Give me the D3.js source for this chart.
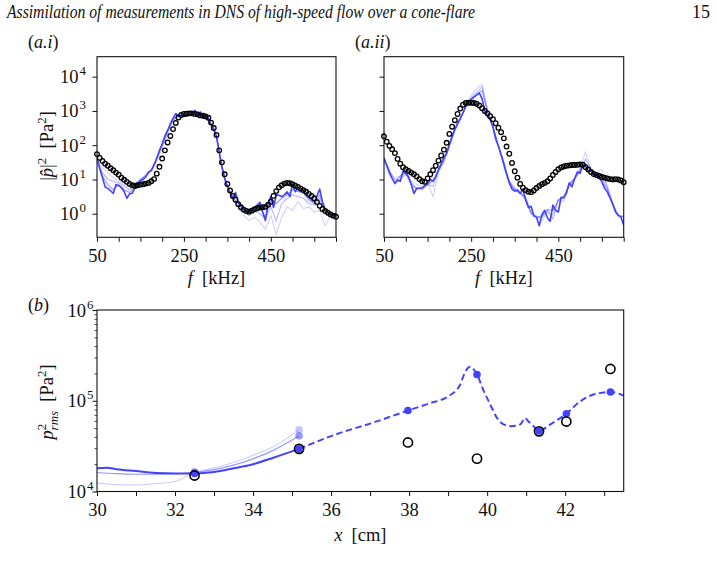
<!DOCTYPE html>
<html><head><meta charset="utf-8">
<script src="https://cdn.jsdelivr.net/npm/d3@7"></script>
<style>
body{margin:0;background:#fff}
svg{display:block}
text{font-family:"Liberation Serif","DejaVu Serif",serif;fill:#111}
</style>
</head><body>
<svg id="c" width="717" height="573"></svg>
<script>
// ---------------- DATA ----------------
// frequency bins [kHz]
const freqFine = d3.range(50, 600.01, 6.25);   // 89 bins
const freqCoarse = d3.range(50, 600.01, 12.5); // 45 bins
const freqTicks = [50,100,150,200,250,300,350,400,450,500,550,600];
const freqTickLabels = [50,250,450];
const specYTicksExp = [0,1,2,3,4];

// (a.i) measured spectrum, log10(|p|^2)
const ai_measured = [1.74,1.63,1.54,1.46,1.40,1.33,1.27,1.20,1.14,1.05,0.99,0.93,0.87,0.83,0.81,0.83,0.85,0.86,0.88,0.90,
 0.95,1.01,1.17,1.37,1.61,1.85,2.08,2.27,2.47,2.65,2.81,2.88,2.91,2.92,2.93,2.93,2.91,2.90,2.87,2.86,
 2.84,2.80,2.66,2.50,2.30,1.85,1.50,1.15,0.87,0.68,0.52,0.41,0.28,0.19,0.12,0.08,0.06,0.09,0.13,0.16,
 0.18,0.19,0.20,0.26,0.35,0.52,0.66,0.77,0.83,0.88,0.90,0.89,0.86,0.82,0.78,0.73,0.69,0.64,0.58,0.52,
 0.45,0.34,0.23,0.14,0.08,0.03,-0.02,-0.06,-0.09];
// (a.i) assimilated DNS, main run, log10
const ai_dns = [1.61,1.32,1.06,0.78,0.74,0.67,0.59,0.85,0.82,0.76,0.65,0.45,0.58,0.60,0.76,0.88,0.96,1.00,1.08,1.22,
 1.26,1.42,1.62,1.85,2.03,2.27,2.43,2.62,2.78,2.92,2.84,2.87,2.84,2.86,2.89,2.87,3.02,2.86,2.97,2.83,
 2.85,2.79,2.60,2.48,2.26,1.78,1.36,1.02,0.80,0.62,0.45,0.62,0.33,0.24,0.17,0.06,0.07,0.10,0.18,0.25,
 0.33,0.05,-0.20,0.30,0.50,0.18,0.55,0.54,0.50,0.55,0.64,0.50,0.86,0.64,0.74,0.70,0.68,0.55,0.47,0.40,
 0.35,0.52,0.72,0.35,0.14,0.06,-0.04,-0.02,0.00];
// (a.i) other runs (coarse bins), log10
const ai_run1 = [1.55,1.35,1.20,1.05,0.95,0.85,0.80,0.90,1.00,1.10,1.30,1.55,1.90,2.35,2.70,2.88,2.95,2.90,2.95,2.88,
 2.85,2.62,2.28,1.40,0.82,0.40,0.20,-0.05,-0.20,-0.10,-0.25,-0.45,-0.05,-0.60,-0.10,0.20,0.10,0.35,0.15,0.20,
 0.05,0.10,-0.35,-0.05,-0.10];
const ai_run2 = [1.58,1.20,1.00,0.95,0.90,0.80,0.70,0.85,1.00,1.15,1.28,1.60,2.00,2.40,2.75,2.85,2.88,2.92,2.98,2.90,
 2.84,2.60,2.25,1.35,0.78,0.50,0.25,0.05,-0.05,0.10,0.00,-0.15,0.20,-0.20,0.30,0.45,0.55,0.50,0.45,0.30,
 0.25,0.45,0.05,-0.05,0.00];
const ai_run3 = [1.60,1.10,0.85,0.70,0.85,0.70,0.62,0.78,0.98,1.10,1.27,1.62,2.02,2.42,2.77,2.86,2.86,2.90,2.99,2.95,
 2.85,2.60,2.26,1.36,0.80,0.48,0.30,0.12,0.05,0.15,0.20,-0.10,0.40,0.30,0.45,0.55,0.70,0.65,0.60,0.40,
 0.30,0.55,0.10,-0.05,0.00];

// (a.ii) measured spectrum, log10
const aii_measured = [2.26,2.10,1.98,1.88,1.77,1.60,1.46,1.36,1.30,1.25,1.20,1.15,1.09,1.01,0.95,0.93,1.03,1.15,1.27,1.40,
 1.55,1.70,1.87,2.07,2.33,2.54,2.73,2.91,3.07,3.18,3.23,3.24,3.24,3.23,3.21,3.16,3.08,3.00,2.93,2.85,
 2.76,2.64,2.51,2.38,2.20,1.96,1.75,1.48,1.24,1.05,0.87,0.76,0.69,0.64,0.63,0.68,0.75,0.81,0.86,0.90,
 0.95,1.03,1.13,1.22,1.30,1.35,1.38,1.40,1.41,1.42,1.42,1.43,1.44,1.43,1.36,1.29,1.22,1.16,1.13,1.10,
 1.07,1.05,1.03,1.01,1.00,1.01,1.00,0.97,0.92];
const aii_dns = [1.62,1.42,1.22,1.03,0.88,0.97,0.95,1.25,1.18,1.08,0.85,0.59,0.74,0.75,0.75,0.82,0.88,0.99,0.95,1.08,
 1.28,1.46,1.65,1.76,2.02,2.26,2.47,2.64,2.78,2.94,3.13,3.25,3.34,3.40,3.46,3.53,3.35,3.00,2.83,2.74,
 2.52,2.18,1.97,1.72,1.45,1.15,0.90,0.72,0.66,0.69,0.59,0.72,0.40,0.18,0.22,-0.06,-0.10,-0.35,-0.02,0.10,
 -0.12,-0.22,0.25,0.10,0.05,0.48,0.47,0.60,0.90,0.79,1.03,1.22,1.18,1.45,1.38,1.24,1.26,1.14,1.16,1.04,
 0.93,0.74,0.63,0.46,0.28,0.05,-0.04,-0.10,-0.33];
const aii_run1 = [1.55,1.15,1.05,1.10,1.20,0.95,0.85,0.80,0.90,0.50,1.20,1.50,1.95,2.40,2.75,3.15,3.45,3.65,3.78,3.05,
 2.55,1.95,1.35,0.95,0.75,0.65,0.45,0.00,-0.05,-0.20,0.05,-0.05,0.45,0.35,0.85,1.05,1.35,1.80,1.30,1.20,
 1.30,0.75,0.25,-0.10,-0.05];
const aii_run2 = [1.65,1.25,1.00,1.00,1.15,0.90,0.75,0.70,0.85,0.80,1.25,1.55,2.00,2.45,2.78,3.12,3.38,3.55,3.70,3.00,
 2.55,2.00,1.45,0.95,0.72,0.62,0.48,0.05,-0.10,-0.10,0.10,-0.15,0.40,0.45,0.80,1.00,1.30,1.60,1.30,1.15,
 1.15,0.80,0.30,-0.05,-0.10];
const aii_run3 = [1.62,1.15,0.92,1.10,1.20,0.85,0.72,0.75,0.85,0.95,1.27,1.58,2.02,2.45,2.75,3.12,3.32,3.48,3.60,2.95,
 2.55,1.98,1.50,0.92,0.68,0.60,0.42,0.00,-0.12,-0.05,0.12,0.10,0.38,0.50,0.88,1.02,1.25,1.45,1.25,1.15,
 1.00,0.70,0.25,-0.05,-0.08];

// (b) p_rms^2 [Pa^2] along x [cm]
const xSensors = [32.5, 35.18, 37.97, 39.74, 41.33, 42.03, 43.16];
const prmsMeasured = [1.50e4, 2.95e4, 3.47e4, 2.30e4, 4.60e4, 5.90e4, 2.24e5];
const prmsDnsAtSensors = [1.58e4, 2.95e4, 7.8e4, 1.95e5, 4.65e4, 7.2e4, 1.25e5];
const xMainSolid = [30.0, 30.25, 30.5, 31.0, 31.5, 32.0, 32.5, 33.0, 33.5, 34.0, 34.5, 35.18];
const prmsMainSolid = [1.80e4, 1.83e4, 1.76e4, 1.68e4, 1.60e4, 1.58e4, 1.58e4, 1.64e4, 1.80e4, 2.00e4, 2.34e4, 2.95e4];
const xMainDashed = [35.18, 36.23, 37.0, 37.97, 38.5, 39.0, 39.3, 39.44, 39.56, 39.74, 39.9, 40.08, 40.25, 40.42, 40.63, 40.85, 40.97, 41.06, 41.19, 41.33, 41.62, 42.03, 42.38, 42.72, 43.16, 43.5];
const prmsMainDashed = [2.95e4, 4.42e4, 5.6e4, 7.8e4, 9.3e4, 1.12e5, 1.48e5, 2.09e5, 2.37e5, 1.95e5, 1.32e5, 9.1e4, 6.5e4, 5.5e4, 5.25e4, 5.5e4, 6.45e4, 5.9e4, 5.25e4, 4.65e4, 5.5e4, 7.2e4, 9.8e4, 1.17e5, 1.25e5, 1.14e5];
const xRunB = [30.0, 30.5, 31.0, 31.5, 32.0, 32.5, 33.0, 33.5, 34.0, 34.5, 35.18];
const prmsRunLight = [1.24e4, 1.19e4, 1.18e4, 1.22e4, 1.29e4, 1.62e4, 1.82e4, 2.09e4, 2.51e4, 3.09e4, 4.79e4];
const prmsRunMid = [1.62e4, 1.57e4, 1.55e4, 1.55e4, 1.57e4, 1.62e4, 1.74e4, 1.95e4, 2.29e4, 2.82e4, 4.12e4];
const xRunDots = [32.5, 35.18];
const prmsRunLightDots = [1.66e4, 4.79e4];
const prmsRunMidDots = [1.62e4, 4.12e4];
const xTicksB = d3.range(30, 43.5, 1);
const xTickLabelsB = [30,32,34,36,38,40,42];

// ---------------- DRAW ----------------
const BLUE = "#4343ff";
const svg = d3.select("#c");
const FS = 18.5;

// header
svg.append("text").attr("x", 7).attr("y", 18).attr("font-size", 18).attr("font-style","italic")
  .attr("textLength", 468).attr("lengthAdjust","spacingAndGlyphs")
  .text("Assimilation of measurements in DNS of high-speed flow over a cone-flare");
svg.append("text").attr("x", 710).attr("y", 18).attr("font-size", 18).attr("text-anchor","end").text("15");

function panelLabel(x, y, inner){
  const t = svg.append("text").attr("x", x).attr("y", y).attr("font-size", 18);
  t.append("tspan").text("(");
  t.append("tspan").attr("font-style","italic").text(inner);
  t.append("tspan").text(")");
}
panelLabel(28, 48, "a.i");
panelLabel(355, 48, "a.ii");
panelLabel(28, 311, "b");

function drawSpectrum(left, top, W, H, measured, dns, runs, showY, clipId){
  const g = svg.append("g").attr("transform", `translate(${left},${top})`);
  const x = d3.scaleLinear().domain([50, 600]).range([0, W]);
  const y = d3.scaleLog().domain([Math.pow(10, -0.688), Math.pow(10, 4.583)]).range([H, 0]);
  g.append("clipPath").attr("id", clipId).append("rect").attr("width", W).attr("height", H);

  // x axis
  const ax = g.append("g").attr("transform", `translate(0,${H})`)
    .call(d3.axisBottom(x).tickValues(freqTicks).tickSize(4.5).tickPadding(5)
      .tickFormat(d => freqTickLabels.includes(d) ? String(d) : ""));
  ax.select(".domain").remove();
  ax.attr("font-family", null);
  ax.selectAll("text").attr("font-size", FS).attr("fill","#111").attr("dy","0.8em");
  ax.selectAll("line").attr("stroke","#111").attr("stroke-width",1);

  // y axis
  const ay = g.append("g")
    .call(d3.axisLeft(y).tickValues(specYTicksExp.map(e => Math.pow(10, e))).tickSize(4.5).tickFormat(""));
  ay.select(".domain").remove();
  ay.selectAll("line").attr("stroke","#111").attr("stroke-width",1);
  if (showY){
    specYTicksExp.forEach(e => {
      g.append("text").attr("x", -18.5).attr("y", y(Math.pow(10,e)) + 6.5)
        .attr("font-size", FS).attr("text-anchor","end").text("10");
      g.append("text").attr("x", -17.5).attr("y", y(Math.pow(10,e)) - 1.5)
        .attr("font-size", FS*0.7).text(String(e));
    });
  }

  const plot = g.append("g").attr("clip-path", `url(#${clipId})`);
  const lineC = d3.line().x((d,i) => x(freqCoarse[i])).y(d => y(Math.pow(10, d)));
  const lineF = d3.line().x((d,i) => x(freqFine[i])).y(d => y(Math.pow(10, d)));
  const runOp = [0.25, 0.4, 0.55];
  runs.forEach((r, k) => {
    plot.append("path").datum(r).attr("d", lineC).attr("fill","none")
      .attr("stroke", BLUE).attr("stroke-opacity", runOp[k]).attr("stroke-width", 1.1);
  });
  plot.append("path").datum(dns).attr("d", lineF).attr("fill","none")
    .attr("stroke", BLUE).attr("stroke-width", 1.6).attr("stroke-linejoin","round");

  g.append("g").selectAll("circle").data(measured).join("circle")
    .attr("cx", (d,i) => x(freqFine[i])).attr("cy", d => y(Math.pow(10, d)))
    .attr("r", 2.3).attr("fill","none").attr("stroke","#000").attr("stroke-width", 1.3);

  g.append("rect").attr("width", W).attr("height", H).attr("fill","none").attr("stroke","#111").attr("stroke-width",1.1);

  // x label
  const xl = g.append("text").attr("x", W/2).attr("y", H + 47).attr("font-size", FS).attr("text-anchor","middle");
  xl.append("tspan").attr("font-style","italic").text("f");
  xl.append("tspan").text("\u2002[kHz]");
  return {g, x, y};
}

drawSpectrum(97, 56.7, 239, 180.6, ai_measured, ai_dns, [ai_run1, ai_run2, ai_run3], true, "clipA1");
drawSpectrum(384, 56.7, 239.7, 180.6, aii_measured, aii_dns, [aii_run1, aii_run2, aii_run3], false, "clipA2");

// y label a
{
  const t = svg.append("text").attr("transform","translate(53,146) rotate(-90)")
    .attr("font-size", FS).attr("text-anchor","middle");
  t.append("tspan").text("|");
  t.append("tspan").attr("font-style","italic").text("p\u0302");
  t.append("tspan").text("|");
  t.append("tspan").attr("font-size", FS*0.7).attr("dy", -7.5).text("2");
  t.append("tspan").attr("dy", 7.5).text("\u2002[Pa");
  t.append("tspan").attr("font-size", FS*0.7).attr("dy", -7.5).text("2");
  t.append("tspan").attr("dy", 7.5).text("]");
}

// ---------- panel b ----------
{
  const left = 97, top = 310, W = 526.7, H = 181.5;
  const g = svg.append("g").attr("transform", `translate(${left},${top})`);
  const x = d3.scaleLinear().domain([30, 43.5]).range([0, W]);
  const y = d3.scaleLog().domain([1e4, 1e6]).range([H, 0]);
  g.append("clipPath").attr("id","clipB").append("rect").attr("width", W).attr("height", H);

  const ax = g.append("g").attr("transform", `translate(0,${H})`)
    .call(d3.axisBottom(x).tickValues(xTicksB).tickSize(4.5).tickPadding(5)
      .tickFormat(d => xTickLabelsB.includes(d) ? String(d) : ""));
  ax.select(".domain").remove();
  ax.attr("font-family", null);
  ax.selectAll("text").attr("font-size", FS).attr("fill","#111").attr("dy","0.8em");
  ax.selectAll("line").attr("stroke","#111");

  const minor = [];
  [1e4, 1e5].forEach(b => { for (let k = 2; k <= 9; k++) minor.push(b*k); });
  const aym = g.append("g").call(d3.axisLeft(y).tickValues(minor).tickSize(2.5).tickFormat(""));
  aym.select(".domain").remove();
  aym.selectAll("line").attr("stroke","#111").attr("stroke-width",0.8);
  const ay = g.append("g").call(d3.axisLeft(y).tickValues([1e4,1e5,1e6]).tickSize(4.5).tickFormat(""));
  ay.select(".domain").remove();
  ay.selectAll("line").attr("stroke","#111");
  [4,5,6].forEach(e => {
    g.append("text").attr("x", -11).attr("y", y(Math.pow(10,e)) + 6.5).attr("font-size", FS).attr("text-anchor","end").text("10");
    g.append("text").attr("x", -10).attr("y", y(Math.pow(10,e)) - 1.5).attr("font-size", FS*0.7).text(String(e));
  });

  const plot = g.append("g").attr("clip-path","url(#clipB)");
  const mk = xs => d3.line().curve(d3.curveMonotoneX).x((d,i) => x(xs[i])).y(d => y(d));
  plot.append("path").datum(prmsRunLight).attr("d", mk(xRunB)).attr("fill","none")
    .attr("stroke", BLUE).attr("stroke-opacity", 0.3).attr("stroke-width", 1);
  plot.append("path").datum(prmsRunMid).attr("d", mk(xRunB)).attr("fill","none")
    .attr("stroke", BLUE).attr("stroke-opacity", 0.55).attr("stroke-width", 1.2);
  plot.append("path").datum(prmsMainSolid).attr("d", mk(xMainSolid)).attr("fill","none")
    .attr("stroke", BLUE).attr("stroke-width", 2);
  plot.append("path").datum(prmsMainDashed).attr("d", mk(xMainDashed)).attr("fill","none")
    .attr("stroke", BLUE).attr("stroke-width", 2).attr("stroke-dasharray","6.5,3.5");

  g.append("g").selectAll("circle").data(prmsRunLightDots).join("circle")
    .attr("cx",(d,i)=>x(xRunDots[i])).attr("cy",d=>y(d)).attr("r",3.8)
    .attr("fill", BLUE).attr("fill-opacity",0.3);
  g.append("g").selectAll("circle").data(prmsRunMidDots).join("circle")
    .attr("cx",(d,i)=>x(xRunDots[i])).attr("cy",d=>y(d)).attr("r",3.8)
    .attr("fill", BLUE).attr("fill-opacity",0.55);
  g.append("g").selectAll("circle").data(prmsDnsAtSensors).join("circle")
    .attr("cx",(d,i)=>x(xSensors[i])).attr("cy",d=>y(d)).attr("r",3.8).attr("fill", BLUE);
  g.append("g").selectAll("circle").data(prmsMeasured).join("circle")
    .attr("cx",(d,i)=>x(xSensors[i])).attr("cy",d=>y(d)).attr("r",4.6)
    .attr("fill","none").attr("stroke","#000").attr("stroke-width",1.6);

  g.append("rect").attr("width", W).attr("height", H).attr("fill","none").attr("stroke","#111").attr("stroke-width",1.1);

  const xl = g.append("text").attr("x", x(36.75)).attr("y", H + 49).attr("font-size", FS).attr("text-anchor","middle");
  xl.append("tspan").attr("font-style","italic").text("x");
  xl.append("tspan").text("\u2002[cm]");

  const t = svg.append("text").attr("transform","translate(53,402) rotate(-90)")
    .attr("font-size", FS).attr("text-anchor","middle");
  t.append("tspan").attr("font-style","italic").text("p");
  t.append("tspan").attr("font-size", FS*0.7).attr("dy", -7.5).text("2");
  t.append("tspan").attr("font-size", FS*0.7).attr("font-style","italic").attr("dx", -6.5).attr("dy", 12).text("rms");
  t.append("tspan").attr("dy", -4.5).text("\u2002[Pa");
  t.append("tspan").attr("font-size", FS*0.7).attr("dy", -7.5).text("2");
  t.append("tspan").attr("dy", 7.5).text("]");
}
</script>
</body></html>
